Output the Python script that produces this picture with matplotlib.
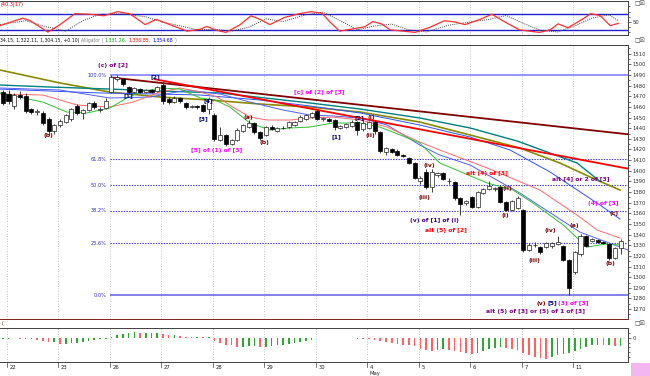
import matplotlib
matplotlib.use("Agg")
import matplotlib.pyplot as plt
import numpy as np
from matplotlib.patches import Rectangle

# ---------------- data ----------------
days = ['22', '23', '26', '27', '28', '29', '30', '4', '5', '6', '7', '11']
bars_per_day = 9
first_bar = -1

opens = [1474, 1472, 1461, 1471, 1470, 1458, 1455, 1454, 1449, 1437,
         1443, 1446, 1449, 1461, 1454, 1457, 1464, 1457, 1459,
         1474, 1486, 1486, 1479, 1474, 1477, 1474, 1476, 1475,
         1481, 1467, 1465, 1468, 1464, 1460, 1461, 1462, 1458,
         1452, 1429, 1434, 1425, 1429, 1437, 1441, 1445, 1436,
         1434, 1441, 1437, 1440, 1441, 1443, 1447, 1449, 1451,
         1456, 1449, 1449, 1448, 1440, 1441, 1442, 1446, 1439,
         1440, 1446, 1436, 1418, 1420, 1419, 1415, 1412, 1407,
         1390, 1399, 1385, 1396, 1398, 1390, 1389, 1374, 1370,
         1375, 1366, 1379, 1383, 1383, 1385, 1371, 1363, 1365,
         1363, 1326, 1330, 1328, 1328, 1329, 1331, 1329, 1316,
         1305, 1322, 1339, 1334, 1335, 1333, 1331, 1318, 1327]
closes = [1464, 1466, 1471, 1469, 1456, 1455, 1456, 1445, 1437, 1443,
          1447, 1452, 1458, 1454, 1457, 1464, 1460, 1457.5, 1466,
          1488, 1488, 1482, 1474, 1478, 1474, 1476, 1474, 1479,
          1466, 1465, 1468, 1466, 1460, 1461, 1460, 1456, 1467,
          1430, 1434, 1425, 1429, 1438, 1443, 1445, 1436, 1431,
          1441, 1439, 1440, 1440.5, 1446, 1446, 1451, 1452, 1454,
          1449, 1449.5, 1447, 1441, 1442, 1444, 1446, 1438, 1445,
          1446, 1437, 1419, 1421, 1418, 1415, 1414, 1407, 1393,
          1393, 1385, 1399, 1397.5, 1392, 1390.5, 1374, 1369, 1372,
          1366, 1380, 1383, 1386, 1383.5, 1371, 1363, 1372, 1374,
          1326, 1330, 1330.5, 1324, 1332, 1332, 1333, 1316, 1290,
          1324, 1339, 1329, 1336, 1333, 1332, 1318, 1327, 1334]
highs = [1476, 1476, 1473, 1475, 1473, 1459, 1458, 1456, 1451, 1444,
         1449, 1453, 1459, 1463, 1458, 1465, 1466, 1460, 1468,
         1490, 1490, 1487, 1480, 1479, 1478, 1477, 1477, 1480,
         1483, 1469, 1470, 1469, 1465, 1462, 1462, 1463, 1469,
         1454, 1441, 1435, 1430, 1440, 1444, 1448, 1446, 1437,
         1442, 1443, 1441, 1442, 1447, 1447, 1452, 1453, 1455,
         1457, 1451, 1450, 1449, 1443, 1445, 1448, 1447, 1449,
         1447, 1448, 1437, 1422, 1421, 1420, 1416, 1413, 1408,
         1395, 1402, 1402, 1399, 1399, 1393, 1390, 1375, 1373,
         1376, 1381, 1384, 1390, 1385, 1386, 1372, 1373, 1376,
         1364, 1332, 1333, 1329, 1333, 1333, 1339, 1330, 1317,
         1325, 1341, 1340, 1337, 1336, 1334, 1332, 1328, 1336]
lows = [1462, 1463, 1458, 1467, 1454, 1453, 1452, 1443, 1434, 1435,
        1441, 1445, 1447, 1452, 1449, 1456, 1458, 1455, 1458,
        1473, 1484, 1480, 1472, 1473, 1473, 1473, 1473, 1474,
        1463, 1463, 1464, 1464, 1458, 1459, 1458, 1455, 1453,
        1428, 1428, 1423, 1424, 1428, 1436, 1440, 1435, 1429,
        1433, 1438, 1436, 1439, 1440, 1442, 1446, 1448, 1450,
        1448, 1447, 1446, 1438, 1439, 1440, 1441, 1434, 1437,
        1439, 1435, 1417, 1415, 1417, 1414, 1413, 1406, 1392,
        1388, 1383, 1380, 1394, 1391, 1388, 1373, 1358, 1368,
        1365, 1365, 1378, 1382, 1381, 1370, 1362, 1362, 1364,
        1324, 1325, 1328, 1322, 1327, 1327, 1330, 1315, 1283.5,
        1303, 1320, 1328, 1333, 1332, 1331, 1316, 1317, 1322]

# moving-average lines (bar position, price)
olive_bar = [-1.5, 9.0, 17.7, 26.5, 35.2, 44.0, 52.7, 61.5, 71.9, 80.7, 89.4, 96.4, 101.7, 106.9]
olive_val = [1494.7, 1482.5, 1474.0, 1469.3, 1466.5, 1462.7, 1459.9, 1455.2, 1445.8, 1433.6, 1421.4, 1407.3, 1394.1, 1381.9]
teal_bar = [-1.5, 7.3, 17.7, 26.5, 37.0, 52.7, 61.5, 71.9, 80.7, 88.9, 94.0, 99.4, 103.4]
teal_val = [1480.6, 1478.7, 1476.8, 1475.0, 1473.1, 1463.7, 1458.0, 1449.6, 1440.2, 1428.0, 1418.0, 1407.3, 1390.0]
blueA_bar = [-1.5, 9.0, 17.7, 24.8, 31.2, 37.0, 42.2, 48.0, 52.7, 56.7, 61.5, 66.2, 71.9, 75.4, 80.7, 89.4, 99.9, 108.3]
blueA_val = [1477.8, 1475.9, 1468.4, 1469.3, 1475.9, 1472.1, 1464.6, 1457.1, 1452.4, 1451.5, 1449.6, 1443.0, 1424.2, 1414.8, 1405.4, 1379.1, 1342.4, 1325.5]
jaw_bar = [-1.5, 16.0, 26.5, 33.5, 44.0, 52.7, 61.5, 71.9, 80.7, 87.7, 94.7, 103.4, 106.9]
jaw_val = [1476.8, 1473.1, 1472.1, 1471.2, 1466.5, 1460.9, 1454.3, 1443.0, 1431.7, 1419.5, 1398.8, 1367.8, 1354.6]
teeth_bar = [-1.5, 6.0, 12.0, 17.7, 21.8, 26.5, 30.0, 33.5, 36.5, 39.2, 42.2, 45.2, 49.2, 52.7, 56.7, 61.5, 66.2, 71.9, 75.4, 83.7, 92.9, 99.9, 102.9, 106.9]
teeth_val = [1472.1, 1471.2, 1461.8, 1459.9, 1464.6, 1474.0, 1477.8, 1474.0, 1469.3, 1459.9, 1450.5, 1447.7, 1447.7, 1449.6, 1450.5, 1447.7, 1441.1, 1427.0, 1419.5, 1402.6, 1381.9, 1356.5, 1344.3, 1336.8]
lips_bar = [-1.5, 6.0, 10.2, 13.7, 17.7, 20.7, 23.0, 26.5, 30.0, 33.5, 36.1, 38.7, 42.2, 45.7, 49.2, 52.7, 56.7, 61.5, 64.9, 68.5, 71.9, 75.4, 83.7, 88.2, 91.7, 97.0, 101.1, 104.3, 106.9]
lips_val = [1473.1, 1464.6, 1455.2, 1454.3, 1459.0, 1468.4, 1474.0, 1477.8, 1476.8, 1468.4, 1466.5, 1459.9, 1444.9, 1438.3, 1440.2, 1441.1, 1444.9, 1444.9, 1441.1, 1433.6, 1426.1, 1407.3, 1388.5, 1381.9, 1369.7, 1349.0, 1328.3, 1331.1, 1330.2]

# trendlines
trend1_bar = [18.3, 108.3]
trend1_val = [1487.5, 1434.3]
trend2_bar = [25.6, 108.3]
trend2_val = [1486.0, 1402.0]

# fibonacci retracement
fib_high, fib_low = 1490.0, 1283.2
fib_levels = [1.0, 0.618, 0.5, 0.382, 0.236, 0.0]
fib_labels = ['100.0%', '61.8%', '50.0%', '38.2%', '23.6%', '0.0%']
fib_start = 17.7

# stochastic
stk_bar = [-1.5, 2.5, 3.8, 6.9, 9.0, 11.6, 14.2, 16.7, 19.1, 21.2, 23.9, 25.8, 28.2, 31.2, 33.5, 34.7, 36.1, 38.0, 40.5, 42.4, 44.0, 45.7, 48.3, 50.8, 52.9, 54.8, 56.2, 57.9, 60.6, 62.3, 63.7, 65.3, 66.7, 71.1, 73.7, 76.2, 78.1, 79.8, 82.4, 84.5, 86.8, 89.3, 92.8, 94.7, 96.1, 97.8, 99.9, 101.8, 103.4, 105.2, 106.6]
stk_val = [36, 65, 55, 11, 40, 82, 80, 74, 90, 82, 40, 60, 40, 15, 22, 33, 20, 10, 40, 74, 60, 40, 68, 82, 90, 84, 50, 15, 25, 32, 52, 42, 20, 10, 30, 55, 50, 40, 60, 80, 50, 20, 10, 20, 43, 28, 55, 82, 75, 36, 45]
std_bar = [-1.5, 3, 6, 10, 13, 16, 20, 24, 27, 30, 33, 36, 39, 42, 45, 48, 52, 55, 58, 61, 64, 67, 70, 73, 77, 80, 84, 87, 90, 93, 96, 99, 102, 105, 106.6]
std_val = [40, 55, 35, 15, 55, 80, 82, 70, 50, 35, 20, 22, 15, 30, 62, 52, 78, 88, 55, 20, 35, 42, 20, 12, 38, 48, 60, 75, 45, 18, 12, 35, 65, 78, 55]

# oscillator histogram
osc = [-1, -1, -0.5, -1, -1, -1.5, -2, -3, -4, -4,
       -6, -6, -5, -5, -4, -3, -2.5, -1.5, -1,
       1, 3, 4, 5, 6, 5, 5, 5, 5,
       4, 3, 3, 2, 1, 0.5, 0.5, 0.3, 0.3,
       -3, -5, -7, -8, -10, -10, -9, -9, -10,
       -10, -9, -8, -7, -6, -5, -4, -3, -2,
       -0.5, -0.5, -0.6, -0.5, -0.5, -0.6, -0.8, -1, -1.2,
       -1.5, -2, -3, -4, -5, -6, -7, -8, -9,
       -12, -13, -13.5, -13, -12, -13, -14, -15, -16,
       -17, -16, -14, -12, -11, -10, -11, -12, -13,
       -16, -18, -20, -21, -22, -20, -18, -17, -16,
       -14, -12, -10, -8, -7, -8, -8, -9, -9]

annotations = [
    ("(c) of [2]", 18.3, 1499.4, '#800080'),
    ("[2]", 25.6, 1488.1, '#000080'),
    ("[1]", 20.9, 1470.3, '#000080'),
    ("(b)", 6.9, 1432.7, '#800000'),
    ("[4]", 34.9, 1465.6, '#000080'),
    ("[3]", 34.0, 1448.6, '#000080'),
    ("[5] of (1) of [3]", 36.4, 1418.6, '#ff00ff'),
    ("(a)", 41.9, 1449.6, '#800000'),
    ("(b)", 44.7, 1427.0, '#800000'),
    ("[c] of (2) of [3]", 54.4, 1474.0, '#ff00ff'),
    ("[1]", 57.4, 1431.7, '#000080'),
    ("[2]", 61.3, 1449.6, '#000080'),
    ("(i)", 63.5, 1449.6, '#800000'),
    ("(ii)", 63.2, 1433.6, '#800000'),
    ("(iv)", 73.5, 1404.5, '#800000'),
    ("(iii)", 72.8, 1375.3, '#800000'),
    ("(v) of [1] of (i)", 74.5, 1352.8, '#400080'),
    ("alt (5) of [2]", 76.5, 1344.3, '#ff0000'),
    ("alt (4) of [3]", 83.7, 1397.0, '#ff0000'),
    ("(ii)", 87.3, 1382.9, '#800000'),
    ("(i)", 86.8, 1358.4, '#800000'),
    ("(iii)", 92.0, 1316.1, '#800000'),
    ("(iv)", 94.7, 1344.3, '#800000'),
    ("(a)", 99.0, 1349.0, '#800000'),
    ("(b)", 105.2, 1313.3, '#800000'),
    ("(c)", 105.9, 1360.3, '#800000'),
    ("(4) of [3]", 104.0, 1369.7, '#ff00ff'),
    ("alt [4] or 2 of [3]", 100.0, 1392.3, '#800080'),
    ("(v)", 93.1, 1275.7, '#800000'),
    ("[5]", 95.0, 1275.7, '#000080'),
    ("(3) of [3]", 98.7, 1275.7, '#ff00ff'),
    ("alt (5) of [3] or (5) of 1 of [3]", 92.2, 1267.3, '#800080'),
]

header_parts = [("34.15, 1,322.11, 1,304.15, +0.10)", '#101010'),
                ("Alligator (", '#808080'),
                ("1,331.26,", '#00a000'),
                ("1,336.85,", '#ff0000'),
                ("1,354.68", '#0000ff'),
                (")", '#808080')]

# ---------------- layout ----------------
W, H = 650, 376
fig = plt.figure(figsize=(W / 100, H / 100), dpi=100)
fig.patch.set_facecolor('white')
plt.rcParams['font.family'] = ['DejaVu Sans']


def ax_px(x0, y0, x1, y1):
    return fig.add_axes([x0 / W, 1 - y1 / H, (x1 - x0) / W, (y1 - y0) / H])


X0PX, DX = 8.5, 5.72
XLIM = (-X0PX / DX, (628 - X0PX) / DX)
grid_pos = [bars_per_day * d - 0.26 for d in range(len(days))]

ax_st = ax_px(0, 1, 628, 35)
ax = ax_px(0, 45, 628, 319)
ax_h = ax_px(0, 328, 628, 362)

for a in (ax_st, ax, ax_h):
    a.set_xlim(*XLIM)
    a.set_facecolor('white')
    a.spines['left'].set_visible(False)
    for s in ('top', 'bottom', 'right'):
        a.spines[s].set_linewidth(0.7)
        a.spines[s].set_color('#404040')
    a.yaxis.tick_right()
    a.tick_params(axis='y', which='both', direction='out', length=2, width=0.5,
                  labelsize=3.8, pad=1.5, colors='#303030')
    a.tick_params(axis='y', which='minor', length=1.2)
    a.set_xticks([])
    for g in grid_pos:
        a.axvline(g, color='#b0b0b0', lw=0.6, ls=(0, (1, 2)), zorder=0)

# ---------------- price panel ----------------
ax.set_ylim(1260.7, 1518.2)
ax.set_yticks(np.arange(1270, 1511, 10))
ax.set_yticks(np.arange(1265, 1516, 5), minor=True)
ax.spines['bottom'].set_color('#802020')

idx = np.arange(first_bar, first_bar + len(opens))
o = np.array(opens, float)
c = np.array(closes, float)
hh = np.array(highs, float)
ll = np.array(lows, float)

# fib lines
for lev, lab in zip(fib_levels, fib_labels):
    price = fib_low + lev * (fib_high - fib_low)
    if lev == 1.0:
        ax.hlines(price, fib_start, XLIM[1], color='#8c8cff', lw=1.3, zorder=1)
    elif lev == 0.0:
        ax.hlines(price, fib_start, XLIM[1], color='#6060e0', lw=1.1, zorder=1)
    else:
        ax.hlines(price, fib_start, XLIM[1], color='#3a3ad0', lw=0.8,
                  ls=(0, (1.2, 1.2)), zorder=1)
    ax.text(fib_start - 0.6, price, lab, ha='right', va='center', fontsize=3.6,
            color='#3030c0')

# MA lines
ax.plot(olive_bar, olive_val, color='#8a8a00', lw=1.2, zorder=2)
ax.plot(teal_bar, teal_val, color='#008080', lw=1.0, zorder=2)
ax.plot(jaw_bar, jaw_val, color='#3050ff', lw=0.7, zorder=2)
ax.plot(blueA_bar, blueA_val, color='#5060ff', lw=0.7, zorder=2)
ax.plot(teeth_bar, teeth_val, color='#ff6a6a', lw=0.7, zorder=2)
ax.plot(lips_bar, lips_val, color='#30c030', lw=0.7, zorder=2)
ax.plot(trend1_bar, trend1_val, color='#800000', lw=1.3, zorder=2)
ax.plot(trend2_bar, trend2_val, color='#ff0000', lw=1.3, zorder=2)

# candles
up = c >= o
ax.vlines(idx, ll, hh, color='#202020', lw=0.6, zorder=3)
blo = np.minimum(o, c)
bht = np.maximum(np.abs(c - o), 0.6)
ax.bar(idx[up], bht[up], bottom=blo[up], width=0.7, color='white',
       edgecolor='#202020', lw=0.5, zorder=4)
ax.bar(idx[~up], bht[~up], bottom=blo[~up], width=0.7, color='black',
       edgecolor='black', lw=0.5, zorder=4)

for txt, bx, py, col in annotations:
    ax.text(bx, py, txt, ha='center', va='center', fontsize=4.4, color=col,
            fontweight='bold', zorder=6)

# ---------------- stochastic panel ----------------
ax_st.set_ylim(0, 131)
ax_st.set_yticks([50])
ax_st.set_yticks([10, 30, 70, 90, 110], minor=True)
ax_st.axhline(80, color='#2020d0', lw=1.0, zorder=1)
ax_st.axhline(20, color='#2020d0', lw=1.0, zorder=1)
ax_st.plot(std_bar, std_val, color='#404040', lw=0.7, ls=(0, (1, 1.2)), zorder=2)
ax_st.plot(stk_bar, stk_val, color='#ff3030', lw=0.9, zorder=3)

# ---------------- histogram panel ----------------
ax_h.set_ylim(-24.7, 9.7)
ax_h.set_yticks([0])
ax_h.set_yticks([-20, -15, -10, -5, 5], minor=True)
ov = np.array(osc, float)
prev = np.concatenate([[ov[0]], ov[:-1]])
cols = np.where(ov >= prev, '#2ea82e', '#ff6060')
ax_h.bar(idx, ov, width=0.28, color=cols, zorder=2)

# date labels
for g, d in zip(grid_pos, days):
    xf = (X0PX + DX * g) / W
    fig.text(xf + 2.5 / W, 1 - 367.5 / H, d, fontsize=3.8, color='#202020',
             ha='left', va='center')
    fig.add_artist(plt.Line2D([xf, xf], [1 - 362 / H, 1 - 367 / H], color='#404040',
                              lw=0.5, transform=fig.transFigure))
    if d == '4':
        fig.text(xf + 2.5 / W, 1 - 373.5 / H, 'May', fontsize=3.8, color='#202020',
                 ha='left', va='center')

# header rows
fig.text(1 / W, 1 - 4.5 / H, '(40.3|17)', fontsize=3.6, color='#e00000', va='center')
yh = 1 - 40.5 / H
renderer = fig.canvas.get_renderer()
xcur = 0.0
for txt, col in header_parts:
    t = fig.text(xcur / W, yh, txt, fontsize=3.3, color=col, va='center')
    bb = t.get_window_extent(renderer=renderer)
    xcur = bb.x1 + 1.5
fig.text(2 / W, 1 - 323.5 / H, '(', fontsize=3.6, color='#800000', va='center')
for yy in (3.5, 40.5, 323.5):
    fig.text(634 / W, 1 - yy / H, '\u25a1\u2612', fontsize=4.2, color='#404040', va='center')

fig.add_artist(Rectangle((631 / W, 0), 19 / W, 13 / H, transform=fig.transFigure,
                         facecolor='#f3b6f0', edgecolor='none'))

fig.savefig('out.png', dpi=100, facecolor='white')
